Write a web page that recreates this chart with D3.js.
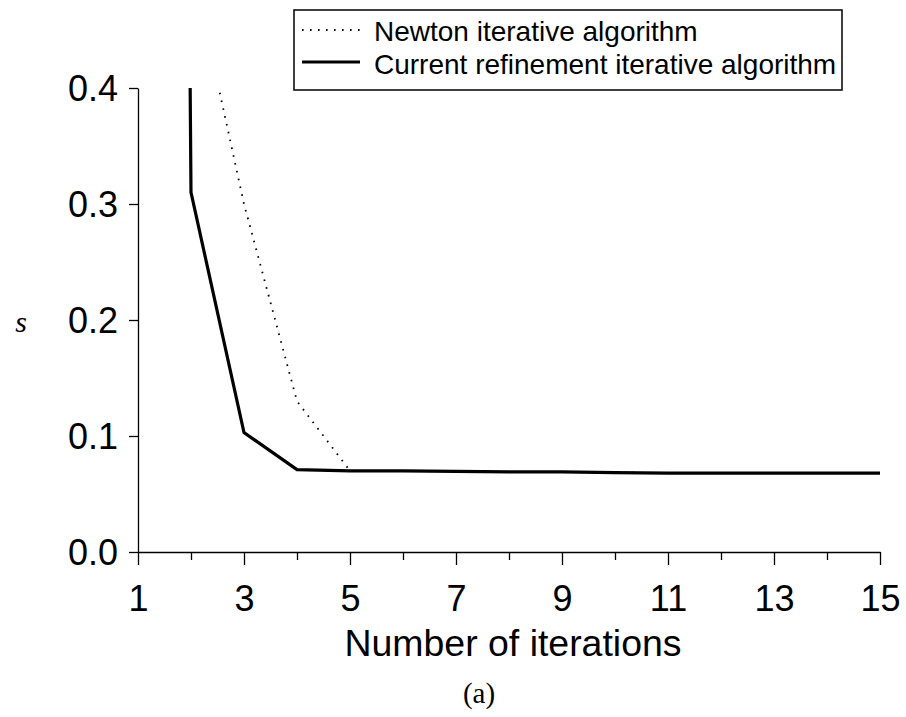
<!DOCTYPE html>
<html>
<head>
<meta charset="utf-8">
<script src="https://cdn.jsdelivr.net/npm/d3@7"></script>
<style>
  html, body { margin: 0; padding: 0; background: #fff; }
  svg { display: block; }
</style>
</head>
<body>
<svg id="chart" width="906" height="717"></svg>
<script>
// ---- data ----
const iterations = [1, 2, 3, 4, 5, 6, 7, 8, 9, 10, 11, 12, 13, 14, 15];
const newtonValues = [6.0, 0.51, 0.30, 0.130, 0.070, 0.070, 0.0695, 0.069, 0.069, 0.0685, 0.068, 0.068, 0.068, 0.068, 0.068];
const currentValues = [6.0, 0.31, 0.103, 0.071, 0.070, 0.070, 0.0695, 0.069, 0.069, 0.0685, 0.068, 0.068, 0.068, 0.068, 0.068];
const xTickValues = [1, 3, 5, 7, 9, 11, 13, 15];
const xMinorTicks = [2, 4, 6, 8, 10, 12, 14];
const yTickValues = [0.0, 0.1, 0.2, 0.3, 0.4];
const seriesNames = ["Newton iterative algorithm", "Current refinement iterative algorithm"];

(function () {
const svg = d3.select("#chart");
const mLeft = 138, mRight = 880, mTop = 88, mBottom = 552;

const x = d3.scaleLinear().domain([1, 15]).range([mLeft, mRight]);
const y = d3.scaleLinear().domain([0, 0.4]).range([mBottom, mTop]);

const sans = "'Liberation Sans', Arial, Helvetica, sans-serif";
const serif = "'Liberation Serif', 'Times New Roman', serif";

// clip
svg.append("defs").append("clipPath").attr("id", "plotclip")
  .append("rect").attr("x", mLeft - 5).attr("y", mTop).attr("width", mRight - mLeft + 10).attr("height", mBottom - mTop);

// x axis
const xAxis = d3.axisBottom(x).tickValues(xTickValues).tickSize(13).tickSizeOuter(0).tickFormat(d3.format("d"));
const gx = svg.append("g").attr("transform", `translate(0,${mBottom})`).call(xAxis);
gx.select(".domain").attr("stroke", "#000").attr("stroke-width", 1.3);
gx.selectAll(".tick line").attr("stroke", "#000").attr("stroke-width", 1.3);
gx.selectAll(".tick text").attr("font-family", sans).attr("font-size", 36).attr("fill", "#000").attr("dy", 0).attr("y", 59);
const xMinor = d3.axisBottom(x).tickValues(xMinorTicks).tickSize(8).tickFormat("");
const gxm = svg.append("g").attr("transform", `translate(0,${mBottom})`).call(xMinor);
gxm.select(".domain").remove();
gxm.selectAll(".tick line").attr("stroke", "#000").attr("stroke-width", 1.3);

// y axis
const yAxis = d3.axisLeft(y).tickValues(yTickValues).tickSize(9).tickSizeOuter(0).tickFormat(d3.format(".1f"));
const gy = svg.append("g").attr("transform", `translate(${mLeft},0)`).call(yAxis);
gy.select(".domain").attr("stroke", "#000").attr("stroke-width", 1.3);
gy.selectAll(".tick line").attr("stroke", "#000").attr("stroke-width", 1.3);
gy.selectAll(".tick text").attr("font-family", sans).attr("font-size", 36).attr("fill", "#000").attr("x", -20).attr("dy", "0.36em");

// lines
const line = d3.line().x((d, i) => x(iterations[i])).y(d => y(d));
const plot = svg.append("g").attr("clip-path", "url(#plotclip)");
plot.append("path").datum(newtonValues).attr("d", line)
  .attr("fill", "none").attr("stroke", "#000").attr("stroke-width", 1.8)
  .attr("stroke-dasharray", "1.6,6.4").attr("stroke-linecap", "butt");
plot.append("path").datum(currentValues).attr("d", line)
  .attr("fill", "none").attr("stroke", "#000").attr("stroke-width", 3.2)
  .attr("stroke-linejoin", "miter");

// axis titles
svg.append("text").attr("x", 513).attr("y", 656).attr("text-anchor", "middle")
  .attr("font-family", sans).attr("font-size", 36).attr("fill", "#000")
  .attr("textLength", 337).attr("lengthAdjust", "spacingAndGlyphs")
  .text("Number of iterations");
svg.append("text").attr("x", 21).attr("y", 332).attr("text-anchor", "middle")
  .attr("font-family", serif).attr("font-style", "italic").attr("font-size", 30).attr("fill", "#000")
  .text("s");
svg.append("text").attr("x", 479).attr("y", 703).attr("text-anchor", "middle")
  .attr("font-family", serif).attr("font-size", 29).attr("fill", "#000")
  .text("(a)");

// legend
const lg = svg.append("g");
lg.append("rect").attr("x", 294).attr("y", 10).attr("width", 548).attr("height", 80)
  .attr("fill", "#fff").attr("stroke", "#000").attr("stroke-width", 1.5);
const legendRows = [
  { name: seriesNames[0], dash: "1.6,6.4", w: 1.8, ly: 30, ty: 41 },
  { name: seriesNames[1], dash: null, w: 3.2, ly: 62, ty: 74 }
];
legendRows.forEach(r => {
  lg.append("line").attr("x1", 302).attr("x2", 360).attr("y1", r.ly).attr("y2", r.ly)
    .attr("stroke", "#000").attr("stroke-width", r.w).attr("stroke-dasharray", r.dash);
  lg.append("text").attr("x", 374).attr("y", r.ty).attr("font-family", sans).attr("font-size", 28)
    .attr("fill", "#000").text(r.name);
});
})();
</script>
</body>
</html>
